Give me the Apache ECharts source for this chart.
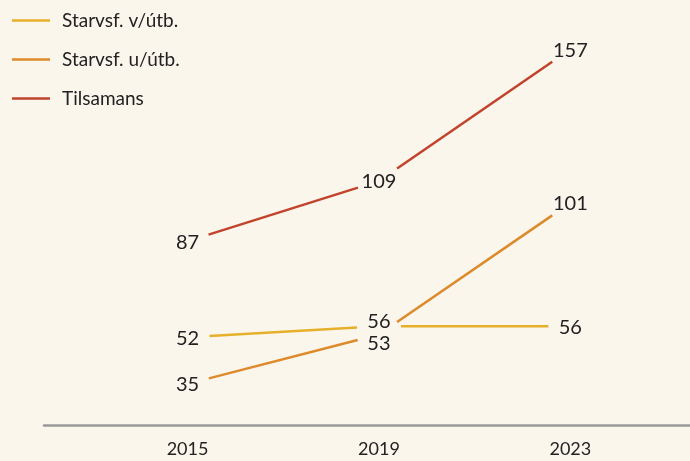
<!DOCTYPE html>
<html>
<head>
<meta charset="utf-8">
<script src="https://cdn.jsdelivr.net/npm/echarts@6/dist/echarts.min.js"></script>
<style>
  html, body { margin: 0; padding: 0; background: #fbf6ec; }
  #chart { width: 690px; height: 461px; }
</style>
</head>
<body>
<div id="chart"></div>
<script>
var years = [2015, 2019, 2023];
var names = ['Starvsf. v/útb.', 'Starvsf. u/útb.', 'Tilsamans'];
var withEdu = [52, 56, 56];
var withoutEdu = [35, 53, 101];
var total = [87, 109, 157];

var colors = ['#e6b02a', '#dd8a2b', '#c1432c'];
var GAP = 22; // space left around each point for the label

function makeSeries(name, values, color, nudge) {
    var pts = years.map(function (y, i) { return [y, values[i]]; });
    return {
        name: name,
        type: 'custom',
        itemStyle: { color: color },
        data: pts,
        encode: { x: 0, y: 1 },
        clip: false,
        renderItem: function (params, api) {
            var i = params.dataIndex;
            var p = api.coord([pts[i][0], pts[i][1]]);
            var children = [];
            if (i < pts.length - 1) {
                var q = api.coord([pts[i + 1][0], pts[i + 1][1]]);
                var dx = q[0] - p[0], dy = q[1] - p[1];
                var len = Math.sqrt(dx * dx + dy * dy);
                var ux = dx / len, uy = dy / len;
                children.push({
                    type: 'line',
                    shape: {
                        x1: p[0] + ux * GAP, y1: p[1] + uy * GAP,
                        x2: q[0] - ux * GAP, y2: q[1] - uy * GAP
                    },
                    style: { stroke: color, lineWidth: 2.5 }
                });
            }
            children.push({
                type: 'text',
                style: {
                    text: String(pts[i][1]),
                    x: p[0],
                    y: p[1] + ((nudge && nudge[i]) || 0) + 1,
                    align: 'center',
                    verticalAlign: 'middle',
                    fill: '#222',
                    font: '20px Lato'
                }
            });
            return { type: 'group', children: children };
        }
    };
}

var chart = echarts.init(document.getElementById('chart'));
var option = {
    backgroundColor: '#fbf6ec',
    animation: false,
    color: colors,
    legend: {
        orient: 'vertical',
        left: 12,
        top: 11,
        padding: 0,
        icon: 'rect',
        itemWidth: 38,
        itemHeight: 2.5,
        itemGap: 20,
        textStyle: { color: '#222', fontSize: 19, fontFamily: 'Lato', padding: [0, 0, 0, 7] },
        data: names
    },
    grid: { left: 44, right: 0, top: 0, bottom: 36 },
    xAxis: {
        type: 'value',
        min: 2012,
        max: 2025.5,
        splitLine: { show: false },
        axisLine: { show: true, onZero: false, lineStyle: { color: '#999', width: 2.5 } },
        axisTick: { show: false },
        axisLabel: {
            customValues: years,
            margin: 15,
            color: '#222',
            fontSize: 18,
            fontFamily: 'Lato',
            formatter: function (v) { return String(v); }
        }
    },
    yAxis: {
        type: 'value',
        min: 20,
        max: 175,
        show: false
    },
    series: [
        makeSeries(names[0], withEdu, colors[0], [0, -6, 0]),
        makeSeries(names[1], withoutEdu, colors[1], [0, 8, 0]),
        makeSeries(names[2], total, colors[2], null)
    ]
};
chart.setOption(option);
</script>
</body>
</html>
